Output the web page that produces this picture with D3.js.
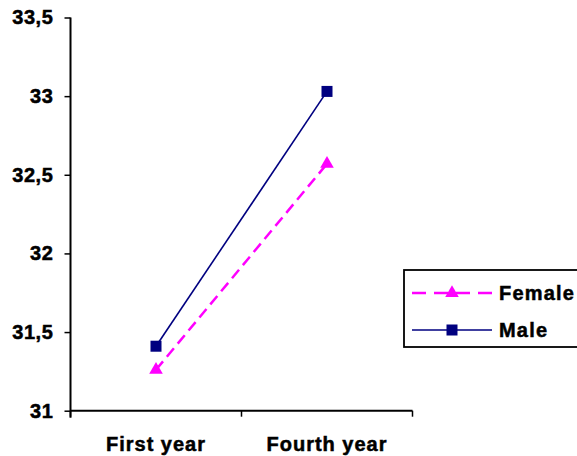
<!DOCTYPE html>
<html><head><meta charset="utf-8">
<script src="https://cdn.jsdelivr.net/npm/d3@7"></script>
<style>
body{margin:0;background:#fff;}
text{font-family:"Liberation Sans",Arial,sans-serif;font-weight:bold;stroke:#000;stroke-width:0.5px;}
</style></head>
<body><svg id="c" width="577" height="456"></svg>
<script>
const categories = ["First year", "Fourth year"];
const femaleValues = [31.26, 32.57];
const maleValues = [31.41, 33.03];
const yTicks = [31, 31.5, 32, 32.5, 33, 33.5];
const yTickLabels = ["31", "31,5", "32", "32,5", "33", "33,5"];
const seriesNames = ["Female", "Male"];

const svg = d3.select("#c");
const x = d3.scaleBand().domain(categories).range([70.5, 412.5]);
const y = d3.scaleLinear().domain([31, 33.5]).range([410.7, 17.5]);

// y axis
const yAxis = svg.append("g").attr("transform","translate(70.5,0)")
  .call(d3.axisLeft(y).tickValues(yTicks).tickFormat((d,i)=>yTickLabels[i]).tickSize(6).tickPadding(11));
yAxis.select(".domain").attr("d", `M0,${y(33.5)}V${y(31)+7}`).attr("stroke","#000").attr("stroke-width",2);
yAxis.selectAll(".tick line").attr("stroke","#000").attr("stroke-width",1.5);
yAxis.selectAll(".tick text").attr("font-size",20).attr("fill","#000").attr("letter-spacing","0.6px");

// x axis
const xAxis = svg.append("g").attr("transform",`translate(0,${y(31)})`)
  .call(d3.axisBottom(x).tickSize(0).tickPadding(26));
xAxis.select(".domain").attr("d",`M70.5,0H412.5`).attr("stroke","#000").attr("stroke-width",2);
xAxis.selectAll(".tick text").attr("font-size",20).attr("fill","#000").attr("letter-spacing","1px").attr("dy","0.71em");
const bounds = [x(categories[0]), x(categories[1]), x(categories[1]) + x.bandwidth()];
xAxis.selectAll(".bt").data(bounds).enter().append("line")
  .attr("x1",d=>d).attr("x2",d=>d).attr("y1",0).attr("y2",6)
  .attr("stroke","#000").attr("stroke-width",1.5);

const cx = c => x(c) + x.bandwidth()/2;
const line = d3.line().x((d,i)=>cx(categories[i])).y(d=>y(d));

// Female
svg.append("path").datum(femaleValues).attr("d",line).attr("fill","none")
  .attr("stroke","#FF00FF").attr("stroke-width",2.5).attr("stroke-dasharray","11,6");
const tri = d3.symbol().type(d3.symbolTriangle).size(80);
svg.selectAll(".ft").data(femaleValues).enter().append("path")
  .attr("d",tri).attr("transform",(d,i)=>`translate(${cx(categories[i])},${y(d)})`).attr("fill","#FF00FF");

// Male
svg.append("path").datum(maleValues).attr("d",line).attr("fill","none")
  .attr("stroke","#000080").attr("stroke-width",1.6);
svg.selectAll(".ms").data(maleValues).enter().append("rect")
  .attr("x",(d,i)=>cx(categories[i])-5.5).attr("y",d=>y(d)-5.5).attr("width",11).attr("height",11).attr("fill","#000080");

// Legend
const lg = svg.append("g");
lg.append("rect").attr("x",404).attr("y",270).attr("width",190).attr("height",77)
  .attr("fill","#fff").attr("stroke","#000").attr("stroke-width",1.8);
const rows = [293, 330];
lg.append("line").attr("x1",412).attr("x2",492).attr("y1",rows[0]).attr("y2",rows[0])
  .attr("stroke","#FF00FF").attr("stroke-width",2.5).attr("stroke-dasharray","14,8");
lg.append("path").attr("d",tri).attr("transform",`translate(452,${rows[0]})`).attr("fill","#FF00FF");
lg.append("line").attr("x1",412).attr("x2",492).attr("y1",rows[1]).attr("y2",rows[1])
  .attr("stroke","#000080").attr("stroke-width",1.6);
lg.append("rect").attr("x",452-5.5).attr("y",rows[1]-5.5).attr("width",11).attr("height",11).attr("fill","#000080");
lg.selectAll(".lt").data(seriesNames).enter().append("text")
  .attr("x",499).attr("y",(d,i)=>rows[i]).attr("dy","0.36em")
  .attr("font-size",20).attr("letter-spacing","1.2px").attr("fill","#000").text(d=>d);
</script></body></html>
